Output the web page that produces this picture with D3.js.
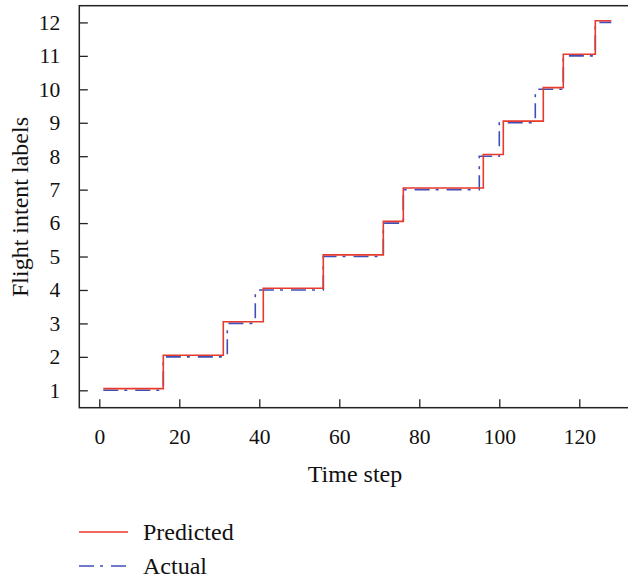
<!DOCTYPE html>
<html>
<head>
<meta charset="utf-8">
<script src="https://cdn.jsdelivr.net/npm/d3@7"></script>
<style>
  body { margin: 0; background: #fff; }
  svg { display: block; font-family: "Liberation Serif", "DejaVu Serif", serif; }
</style>
</head>
<body>
<div id="chart"></div>
<script>
// tick labels
var timeTicks = [0, 20, 40, 60, 80, 100, 120];
var labelTicks = [1, 2, 3, 4, 5, 6, 7, 8, 9, 10, 11, 12];

// time step where each label starts
var predictedStep = [1, 16, 31, 41, 56, 71, 76, 96, 101, 111, 116, 124];
var predictedLabel = [1.05, 2.05, 3.05, 4.05, 5.05, 6.05, 7.05, 8.05, 9.05, 10.05, 11.05, 12.05];
var actualStep = [1, 16, 32, 39, 56, 71, 76, 95, 100, 109, 116, 124];
var actualLabel = [1, 2, 3, 4, 5, 6, 7, 8, 9, 10, 11, 12];
var lastStep = 128;

var seriesNames = ["Predicted", "Actual"];

(function() {
  var width = 628, height = 582;
  var left = 79.3, top = 5.7, bottom = 407.7;

  var svg = d3.select("#chart")
    .append("svg")
    .attr("width", width)
    .attr("height", height);

  var xPositionScale = d3.scaleLinear().domain([-5, 135]).range([left, left + 4 * 140]);
  var yPositionScale = d3.scaleLinear().domain([0.48, 12.5]).range([bottom, top]);

  function toPoints(steps, labels) {
    var pts = steps.map(function(s, i) { return [s, labels[i]] });
    pts.push([lastStep, labels[labels.length - 1]]);
    return pts;
  }

  var line = d3.line()
    .x(function(d) { return xPositionScale(d[0]) })
    .y(function(d) { return yPositionScale(d[1]) })
    .curve(d3.curveStepAfter);

  // frame (right side runs off the picture)
  svg.append("rect")
    .attr("x", left)
    .attr("y", top)
    .attr("width", xPositionScale(135) - left)
    .attr("height", bottom - top)
    .attr("fill", "none")
    .attr("stroke", "#222")
    .attr("stroke-width", 1.5);

  // axes with inward ticks
  var xAxis = svg.append("g")
    .attr("transform", "translate(0," + bottom + ")")
    .call(d3.axisBottom(xPositionScale).tickValues(timeTicks).tickSizeInner(-8.5).tickSizeOuter(0).tickPadding(21));
  var yAxis = svg.append("g")
    .attr("transform", "translate(" + left + ",0)")
    .call(d3.axisLeft(yPositionScale).tickValues(labelTicks).tickSizeInner(-8.5).tickSizeOuter(0).tickPadding(19));

  [xAxis, yAxis].forEach(function(ax) {
    ax.select(".domain").remove();
    ax.selectAll(".tick line").attr("stroke", "#222").attr("stroke-width", 1.3);
    ax.selectAll(".tick text")
      .attr("fill", "#111")
      .style("font-family", "Liberation Serif")
      .style("font-size", "21.5px");
  });

  // series
  svg.append("path")
    .datum(toPoints(actualStep, actualLabel))
    .attr("d", line)
    .attr("fill", "none")
    .attr("stroke", "#3f4fb8")
    .attr("stroke-width", 1.6)
    .attr("stroke-dasharray", "15,6,3,8");

  svg.append("path")
    .datum(toPoints(predictedStep, predictedLabel))
    .attr("d", line)
    .attr("fill", "none")
    .attr("stroke", "#e8392d")
    .attr("stroke-width", 1.6);

  // axis titles
  svg.append("text")
    .attr("x", 355)
    .attr("y", 482)
    .attr("text-anchor", "middle")
    .attr("fill", "#111")
    .style("font-size", "24px")
    .text("Time step");

  svg.append("text")
    .attr("transform", "translate(28,207) rotate(-90)")
    .attr("text-anchor", "middle")
    .attr("fill", "#111")
    .style("font-size", "24px")
    .text("Flight intent labels");

  // legend
  var legendY = d3.scalePoint().domain(seriesNames).range([532, 566]);
  var legendStyle = {
    "Predicted": { color: "#e8392d", dash: null },
    "Actual": { color: "#3f4fb8", dash: "15,6,3,8" }
  };

  svg.selectAll(".legendline")
    .data(seriesNames)
    .enter().append("line")
    .attr("class", "legendline")
    .attr("x1", 79)
    .attr("x2", 128)
    .attr("y1", function(d) { return legendY(d) })
    .attr("y2", function(d) { return legendY(d) })
    .attr("stroke", function(d) { return legendStyle[d].color })
    .attr("stroke-width", 1.5)
    .attr("stroke-dasharray", function(d) { return legendStyle[d].dash });

  svg.selectAll(".legendtext")
    .data(seriesNames)
    .enter().append("text")
    .attr("class", "legendtext")
    .attr("x", 143)
    .attr("y", function(d) { return legendY(d) + 8 })
    .attr("fill", "#111")
    .style("font-size", "24px")
    .text(function(d) { return d });
})();
</script>
</body>
</html>
